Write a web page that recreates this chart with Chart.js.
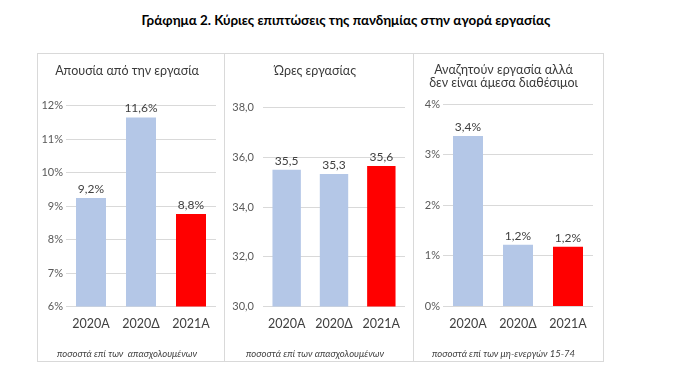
<!DOCTYPE html>
<html>
<head>
<meta charset="utf-8">
<script src="https://cdn.jsdelivr.net/npm/chart.js@4/dist/chart.umd.min.js"></script>
<style>
  body { margin: 0; background: #fff; width: 700px; height: 372px; position: relative; overflow: hidden; font-family: Lato, "Open Sans", sans-serif; }
  #title { position: absolute; top: 12px; left: 0; width: 692px; text-align: center; font-weight: bold; font-size: 13.4px; color: #000; }
  .panel { position: absolute; top: 53px; height: 309px; border: 1px solid #d9d9d9; box-sizing: border-box; background: #fff; }
  .panel canvas { position: absolute; left: 0; top: 0; }
</style>
</head>
<body>
<div id="title">Γράφημα 2. Κύριες επιπτώσεις της πανδημίας στην αγορά εργασίας</div>
<div class="panel" style="left:37px;width:188px"><canvas id="c1"></canvas></div>
<div class="panel" style="left:224px;width:190px"><canvas id="c2"></canvas></div>
<div class="panel" style="left:413px;width:191px"><canvas id="c3"></canvas></div>
<script>
// δεδομένα
const categories = ['2020Α', '2020Δ', '2021Α'];
const absence = [9.24, 11.64, 8.76];       // % απασχολουμένων
const hours = [35.5, 35.33, 35.65];        // ώρες εργασίας
const notAvailable = [3.37, 1.22, 1.18];   // % μη-ενεργών 15-74
const barColors = ['#b4c7e7', '#b4c7e7', '#ff0000'];

const font = 'Lato, "Open Sans", sans-serif';
const dec = (v, d) => v.toFixed(d).replace('.', ',');

// ετικέτες τιμών πάνω από τις μπάρες
const valueLabels = {
    id: 'valueLabels',
    afterDatasetsDraw(chart, args, opts) {
        const c = chart.ctx;
        const meta = chart.getDatasetMeta(0);
        c.save();
        c.font = '12px ' + font;
        c.fillStyle = '#404040';
        c.textAlign = 'center';
        c.textBaseline = 'bottom';
        meta.data.forEach((bar, i) => {
            c.fillText(opts.fmt(chart.data.datasets[0].data[i]), bar.x, bar.y - 3);
        });
        c.restore();
    }
};

const makeChart = function (id, values, title, note, y, fmt, pad) {
    return new Chart(document.getElementById(id), {
        type: 'bar',
        data: {
            labels: categories,
            datasets: [{
                data: values,
                backgroundColor: barColors,
                barPercentage: 0.6,
                categoryPercentage: 1
            }]
        },
        options: {
            responsive: true,
            maintainAspectRatio: false,
            animation: false,
            layout: { padding: { left: 0, right: pad.right } },
            plugins: {
                legend: { display: false },
                tooltip: { enabled: false },
                title: {
                    display: true,
                    text: title,
                    color: '#3a3a3a',
                    font: { family: font, size: 12.5, weight: 'normal', lineHeight: 1.0 },
                    padding: pad.title
                },
                subtitle: {
                    display: true,
                    position: 'bottom',
                    text: note,
                    color: '#404040',
                    font: { family: font, size: 9.5, style: 'italic', lineHeight: 1.2 },
                    padding: { top: 15, bottom: 1 }
                },
                valueLabels: { fmt: fmt }
            },
            scales: {
                x: {
                    grid: { display: false },
                    border: { display: false },
                    ticks: { color: '#404040', font: { family: font, size: 12.5 }, padding: 2 }
                },
                y: {
                    min: y.min,
                    max: y.max,
                    afterFit: s => { s.width = pad.left; },
                    grid: { color: '#d9d9d9', drawTicks: false },
                    border: { display: false },
                    ticks: {
                        stepSize: y.step,
                        padding: pad.tick,
                        color: '#595959',
                        font: { family: font, size: 11 },
                        callback: y.tick
                    }
                }
            }
        },
        plugins: [valueLabels]
    });
};

makeChart('c1', absence, 'Απουσία από την εργασία', 'ποσοστά επί των  απασχολουμένων',
    { min: 6, max: 12, step: 1, tick: v => v + '%' },
    v => dec(v, 1) + '%',
    { left: 28, right: 8, tick: 3, title: { top: 11, bottom: 28 } });

makeChart('c2', hours, 'Ώρες εργασίας', 'ποσοστά επί των απασχολουμένων',
    { min: 30, max: 38, step: 2, tick: v => dec(v, 1) },
    v => dec(v, 1),
    { left: 38, right: 8, tick: 9, title: { top: 11, bottom: 30 } });

makeChart('c3', notAvailable, ['Αναζητούν εργασία αλλά', 'δεν είναι άμεσα διαθέσιμοι'], 'ποσοστά επί των μη-ενεργών 15-74',
    { min: 0, max: 4, step: 1, tick: v => v + '%' },
    v => dec(v, 1) + '%',
    { left: 29, right: 10, tick: 3, title: { top: 10, bottom: 15 } });
</script>
</body>
</html>
